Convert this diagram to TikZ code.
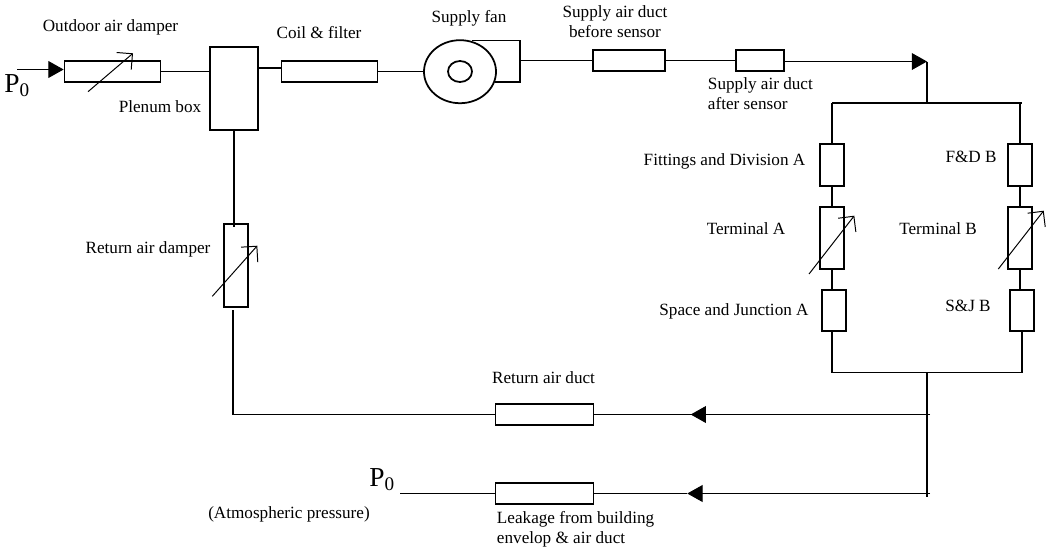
\documentclass[tikz,border=0pt]{standalone}
\usepackage{fontspec}
\setmainfont{Liberation Serif}
\usepackage{tikz}
\usetikzlibrary{shapes.geometric, arrows.meta, calc}

\tikzset{
  pipe/.style={line width=1.25pt},
  thinflow/.style={line width=0.7pt},
  block/.style 2 args={draw, line width=1.25pt, inner sep=0pt, minimum width=#1cm, minimum height=#2cm},
  lab/.style={inner sep=0pt, align=center, yshift=-0.04cm},
  adjust/.style={line width=0.7pt, -{Straight Barb[length=0.28cm, width=0.56cm, line width=0.7pt]}},
  flow/.style={thinflow, -{Triangle[length=0.38cm, width=0.42cm]}},
  atm/.style={inner sep=0pt, yshift=-0.04cm, font=\fontsize{19.5}{22}\selectfont}
}

\begin{document}
\begin{tikzpicture}[x=0.025cm, y=-0.025cm, font=\fontsize{12.2}{14.2}\selectfont]
  \useasboundingbox (0,0) rectangle (1050,548);

  % supply path
  \node[block={2.4}{0.525}] (outd) at (112.5,71.5) {};
  \node[block={1.2}{2.075}] (plen) at (234,88.5) {};
  \node[block={2.4}{0.525}] (coil) at (329.5,71.5) {};
  \node[draw, ellipse, pipe, inner sep=0pt, minimum width=1.8cm, minimum height=1.575cm] (fan) at (460,71.7) {};
  \node[draw, ellipse, pipe, inner sep=0pt, minimum width=0.6cm, minimum height=0.525cm] (hub) at (460,71.5) {};
  \node[block={1.8}{0.525}] (before) at (629,60.5) {};
  \node[block={1.2}{0.525}] (after) at (760,60.5) {};
  \coordinate (src) at (17,69.5);
  \coordinate (fan1) at (472,40.5);
  \coordinate (fan2) at (520,40.5);
  \coordinate (fan3) at (520,82);
  \coordinate (fan4) at (495,82);
  \coordinate (tee) at (927,61.5);
  \coordinate (split) at (927,103);
  \coordinate (splitl) at (832,103);
  \coordinate (splitr) at (1022,103);

  % branches
  \node[block={0.6}{1.05}] (fda) at (832,165) {};
  \node[block={0.6}{1.05}] (fdb) at (1020,165) {};
  \node[block={0.6}{1.55}] (tma) at (832,238) {};
  \node[block={0.6}{1.55}] (tmb) at (1020,238) {};
  \node[block={0.6}{1.025}] (sja) at (834,310.5) {};
  \node[block={0.6}{1.025}] (sjb) at (1022,310.5) {};
  \coordinate (joinl) at (832,372.5);
  \coordinate (joinr) at (1022.3,372.5);
  \coordinate (join) at (927,372.5);
  \coordinate (jend) at (927,497);

  % return and leakage
  \node[block={0.6}{2.075}] (rdmp) at (236,265.7) {};
  \node[block={2.45}{0.525}] (rduct) at (544.5,414.5) {};
  \node[block={2.45}{0.525}] (leak) at (544.5,493.5) {};
  \coordinate (rtip) at (690.7,414.5);
  \coordinate (rend) at (930,414.5);
  \coordinate (ltip) at (687.3,493.5);
  \coordinate (lend) at (930,493.5);
  \coordinate (rcor) at (233.3,414.5);
  \coordinate (rtop) at (233.3,310);
  \coordinate (ptop) at (234,226.7);
  \coordinate (patm) at (400,493.5);

  \draw[flow] (src) -- (src -| outd.west);
  \draw[pipe] (outd.east) -- (outd.east -| plen.west);
  \draw[pipe] (coil.west) ++(0,-3.5) -- ++(-23.5,0);
  \draw[pipe] (coil.east) -- (coil.east -| fan.west);
  \draw[pipe] (fan1) -- (fan2) -- (fan3) -- (fan4);
  \draw[pipe] (before.west) -- (before.west -| fan2);
  \draw[pipe] (before.east) -- (after.west);
  \draw[flow] (after.east |- tee) -- (tee);
  \draw[pipe] (tee) -- (split);
  \draw[pipe] (splitl) -- (splitr);
  \draw[pipe] (splitl) -- (fda.north);
  \draw[pipe] (fdb.north) -- (fdb.north |- splitr);
  \draw[pipe] (fda.south) -- (tma.north);
  \draw[pipe] (fdb.south) -- (tmb.north);
  \draw[pipe] (tma.south) -- (tma.south |- sja.north);
  \draw[pipe] (tmb.south) -- (tmb.south |- sjb.north);
  \draw[pipe] (sja.south -| joinl) -- (joinl) -- (joinr) -- (sjb.south -| joinr);
  \draw[pipe] (join) -- (jend);
  \draw[pipe] (plen.south) -- (ptop);
  \draw[pipe] (rtop) -- (rcor) -- (rduct.west);
  \draw[pipe] (rduct.east) -- (rtip);
  \draw[flow] (rend) -- (rtip);
  \draw[pipe] (patm) -- (leak.west);
  \draw[pipe] (leak.east) -- (ltip);
  \draw[flow] (lend) -- (ltip);

  % adjustable arrows
  \coordinate (a1) at (88,91.7);    \coordinate (a2) at (133,53.3);
  \coordinate (b1) at (212.3,296.3); \coordinate (b2) at (257.3,245.7);
  \coordinate (c1) at (809,274);    \coordinate (c2) at (854.3,215.7);
  \coordinate (d1) at (998.3,269);  \coordinate (d2) at (1043.7,210.7);
  \draw[adjust] (a1) -- (a2);
  \draw[adjust] (b1) -- (b2);
  \draw[adjust] (c1) -- (c2);
  \draw[adjust] (d1) -- (d2);

  % labels
  \node[atm, anchor=west] (p0a) at (4,84) {P\textsubscript{0}};
  \node[atm, anchor=west] (p0b) at (369,478) {P\textsubscript{0}};
  \node[lab] (loutd) at (110.5,25.7) {Outdoor air damper};
  \node[lab] (lplen) at (160,104.7) {Plenum box};
  \node[lab] (lcoil) at (319,30.7) {Coil \& filter};
  \node[lab] (lfan) at (469,17) {Supply fan};
  \node[lab] (lbefore) at (615,20) {Supply air duct\\before sensor};
  \node[lab, anchor=west, align=left] (lafter) at (707.7,91.7) {Supply air duct\\after sensor};
  \node[lab] (lfda) at (724.5,160) {Fittings and Division A};
  \node[lab] (lfdb) at (971,155) {F\&D B};
  \node[lab] (ltma) at (746,227) {Terminal A};
  \node[lab] (ltmb) at (938,227) {Terminal B};
  \node[lab] (lsja) at (734,310) {Space and Junction A};
  \node[lab] (lsjb) at (968,304) {S\&J B};
  \node[lab] (lrdmp) at (148,247.7) {Return air damper};
  \node[lab] (lrduct) at (543.5,376) {Return air duct};
  \node[lab] (latm) at (289,512.7) {(Atmospheric pressure)};
  \node[lab, anchor=west, align=left] (lleak) at (496.7,528) {Leakage from building\\envelop \& air duct};
\end{tikzpicture}
\end{document}
